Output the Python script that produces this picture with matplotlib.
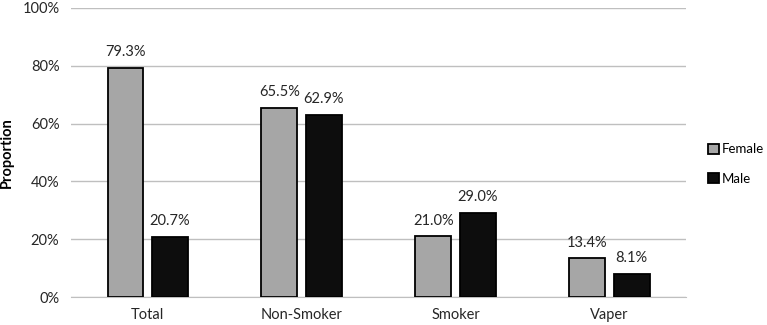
import matplotlib.pyplot as plt
import numpy as np

categories = ["Total", "Non-Smoker", "Smoker", "Vaper"]
female = [79.3, 65.5, 21.0, 13.4]
male = [20.7, 62.9, 29.0, 8.1]

plt.rcParams['font.family'] = ['Lato', 'DejaVu Sans']

fig = plt.figure(figsize=(7.67, 3.25), dpi=100)
ax = fig.add_axes([0.092, 0.086, 0.803, 0.89])

x = np.arange(len(categories))
w = 0.23
off = 0.145
b1 = ax.bar(x - off, female, w, color="#a6a6a6", edgecolor="black", linewidth=1.3, label="Female", zorder=3)
b2 = ax.bar(x + off, male, w, color="#0d0d0d", edgecolor="black", linewidth=1.3, label="Male", zorder=3)

for bars, vals in ((b1, female), (b2, male)):
    for r, v in zip(bars, vals):
        ax.text(r.get_x() + r.get_width() / 2, v + 3, f"{v:.1f}%", ha="center", va="bottom",
                fontsize=10.5, color="#262626")

ax.set_xlim(-0.5, 3.5)
ax.set_ylim(0, 100)
ax.set_yticks(range(0, 101, 20))
ax.set_yticklabels([f"{t}%" for t in range(0, 101, 20)])
ax.set_xticks(x)
ax.set_xticklabels(categories)
ax.tick_params(axis="both", length=0, labelsize=10.5, colors="#262626", pad=8)
ax.grid(axis="y", color="#bfbfbf", linewidth=1, zorder=0)
for s in ("top", "right", "left"):
    ax.spines[s].set_visible(False)
ax.spines["bottom"].set_color("#bfbfbf")
ax.set_ylabel("Proportion", fontsize=10.5, fontweight="bold", labelpad=6)

ax.legend(loc="center left", bbox_to_anchor=(1.02, 0.46), frameon=False, fontsize=9.5,
          handlelength=0.8, handleheight=0.8, handletextpad=0.25, labelspacing=1.3,
          borderaxespad=0.3)

fig.savefig("out.png", dpi=100)
